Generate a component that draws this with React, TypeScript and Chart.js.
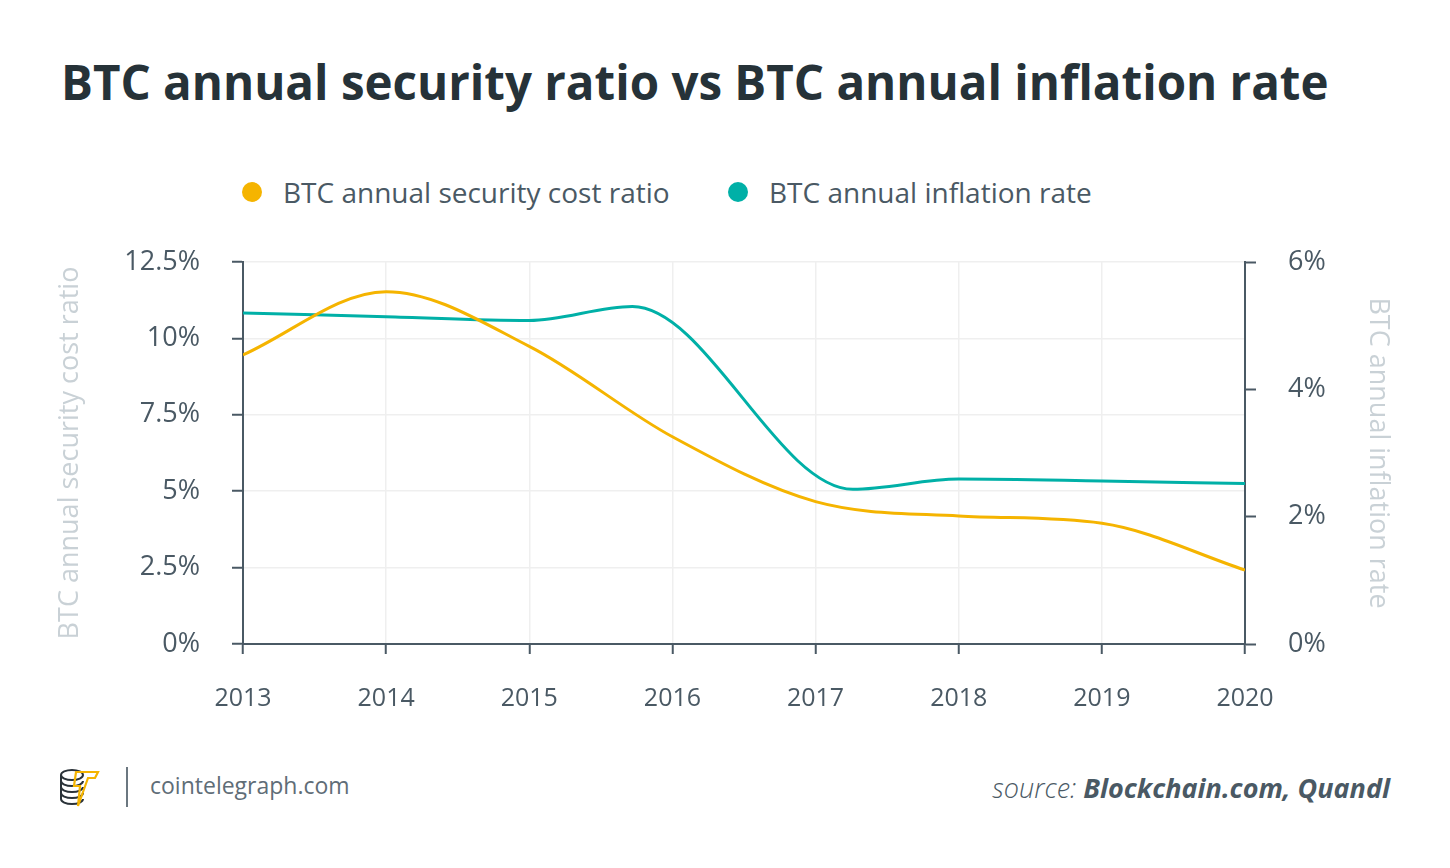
import React, { useEffect, useRef } from "react";
import { Chart, registerables } from "chart.js";

Chart.register(...registerables);

const yearTicks = [2013, 2014, 2015, 2016, 2017, 2018, 2019, 2020];
const securityYears = [2013, 2014, 2015, 2016, 2017, 2018, 2019, 2020];
const securityCostRatio = [9.46, 11.53, 9.74, 6.78, 4.66, 4.19, 3.95, 2.42];
const inflationYears = [2013, 2014, 2015, 2015.72, 2017.26, 2018, 2019, 2020];
const inflationRate = [5.2, 5.14, 5.08, 5.3, 2.43, 2.59, 2.56, 2.52];
const leftTicks = [0, 2.5, 5, 7.5, 10, 12.5];
const rightTicks = [0, 2, 4, 6];

const YELLOW = "#f5b400";
const TEAL = "#00b0a7";
const AXIS = "#4a5964";
const GRID = "#efefef";
const TITLE_GREY = "#c9d1d6";
const FONT = "'Open Sans', 'Noto Sans', sans-serif";

function LineChart() {
  const ref = useRef<HTMLCanvasElement | null>(null);
  useEffect(() => {
    if (!ref.current) return;
    const chart = new Chart(ref.current, {
      type: "line",
      data: {
        datasets: [
          {
            label: "BTC annual security cost ratio",
            data: securityYears.map((x, i) => ({ x, y: securityCostRatio[i] })),
            borderColor: YELLOW,
            backgroundColor: YELLOW,
            borderWidth: 3,
            pointRadius: 0,
            cubicInterpolationMode: "monotone",
            yAxisID: "y",
          },
          {
            label: "BTC annual inflation rate",
            data: inflationYears.map((x, i) => ({ x, y: inflationRate[i] })),
            borderColor: TEAL,
            backgroundColor: TEAL,
            borderWidth: 3,
            pointRadius: 0,
            cubicInterpolationMode: "monotone",
            yAxisID: "y1",
          },
        ],
      },
      options: {
        animation: false,
        responsive: true,
        maintainAspectRatio: false,
        layout: { padding: { top: 22, left: 0, right: 0, bottom: 0 } },
        plugins: {
          legend: { display: false },
          tooltip: { enabled: false },
        },
        scales: {
          x: {
            type: "linear",
            min: 2013,
            max: 2020,
            afterBuildTicks: (s: any) => {
              s.ticks = yearTicks.map((v) => ({ value: v }));
            },
            grid: { color: GRID, lineWidth: 1.5, tickColor: AXIS, tickLength: 10, tickWidth: 2 },
            border: { color: AXIS, width: 2 },
            ticks: {
              color: AXIS,
              font: { family: FONT, size: 25 },
              padding: 30,
              maxRotation: 0,
              autoSkip: false,
              callback: (v: any) => String(v),
            },
            afterFit: (s: any) => {
              s.height = 76;
              s.paddingLeft = 0;
              s.paddingRight = 0;
            },
          },
          y: {
            position: "left",
            min: 0,
            max: 12.5,
            afterBuildTicks: (s: any) => {
              s.ticks = leftTicks.map((v) => ({ value: v }));
            },
            grid: { color: GRID, lineWidth: 1.5, tickColor: AXIS, tickLength: 11, tickWidth: 2 },
            border: { color: AXIS, width: 2 },
            ticks: {
              color: AXIS,
              font: { family: FONT, size: 27 },
              padding: 32,
              callback: (v: any) => `${v}%`,
            },
            title: {
              display: true,
              text: "BTC annual security cost ratio",
              color: TITLE_GREY,
              font: { family: FONT, size: 27 },
              padding: { top: 54, bottom: 0 },
            },
            afterFit: (s: any) => {
              s.width = 243;
              s.paddingTop = 0;
              s.paddingBottom = 0;
            },
          },
          y1: {
            position: "right",
            min: 0,
            max: 6,
            afterBuildTicks: (s: any) => {
              s.ticks = rightTicks.map((v) => ({ value: v }));
            },
            grid: { drawOnChartArea: false, tickColor: AXIS, tickLength: 11, tickWidth: 2 },
            border: { color: AXIS, width: 2 },
            ticks: {
              color: AXIS,
              font: { family: FONT, size: 27 },
              padding: 32,
              callback: (v: any) => `${v}%`,
            },
            title: {
              display: true,
              text: "BTC annual inflation rate",
              color: TITLE_GREY,
              font: { family: FONT, size: 27 },
              padding: { top: 56, bottom: 0 },
            },
            afterFit: (s: any) => {
              s.width = 205;
              s.paddingTop = 0;
              s.paddingBottom = 0;
            },
          },
        },
      },
    });
    return () => chart.destroy();
  }, []);
  return <canvas ref={ref} />;
}

function Logo() {
  return (
    <svg width="44" height="40" viewBox="0 0 44 40" style={{ position: "absolute", left: 58, top: 767 }}>
      <g fill="none" stroke="#2a3238" strokeWidth="2">
        <ellipse cx="14" cy="8" rx="11" ry="5" />
        <path d="M3 8 v6 a11 5 0 0 0 22 0" />
        <path d="M3 14 v6 a11 5 0 0 0 22 0" />
        <path d="M3 20 v6 a11 5 0 0 0 22 0" />
        <path d="M3 26 v6 a11 5 0 0 0 22 0" />
      </g>
      <path d="M18 5 h22 l-3 6 h-7 l-10 28 l2 -20 h-6 z" fill="none" stroke={YELLOW} strokeWidth="2.2" />
    </svg>
  );
}

export default function App() {
  useEffect(() => {
    document.body.style.margin = "0";
  }, []);
  return (
    <div
      style={{
        position: "absolute",
        left: 0,
        top: 0,
        width: 1450,
        height: 868,
        background: "#ffffff",
        fontFamily: FONT,
        overflow: "hidden",
      }}
    >
      <div
        style={{
          position: "absolute",
          left: 61,
          top: 58,
          fontSize: 47.5,
          lineHeight: "48px",
          fontWeight: 700,
          color: "#263238",
          whiteSpace: "nowrap",
        }}
      >
        BTC annual security ratio vs BTC annual inflation rate
      </div>

      <div style={{ position: "absolute", left: 242, top: 182, width: 20, height: 20, borderRadius: 10, background: YELLOW }} />
      <div
        style={{ position: "absolute", left: 283, top: 173, fontSize: 28, lineHeight: "38px", color: AXIS, whiteSpace: "nowrap" }}
      >
        BTC annual security cost ratio
      </div>
      <div style={{ position: "absolute", left: 728, top: 182, width: 20, height: 20, borderRadius: 10, background: TEAL }} />
      <div
        style={{ position: "absolute", left: 769, top: 173, fontSize: 28, lineHeight: "38px", color: AXIS, whiteSpace: "nowrap" }}
      >
        BTC annual inflation rate
      </div>

      <div style={{ position: "absolute", left: 0, top: 240, width: 1450, height: 480 }}>
        <LineChart />
      </div>

      <Logo />
      <div style={{ position: "absolute", left: 126, top: 767, width: 2, height: 40, background: "#6b7780" }} />
      <div
        style={{ position: "absolute", left: 150, top: 770, fontSize: 23, lineHeight: "30px", color: "#5f6d77", whiteSpace: "nowrap" }}
      >
        cointelegraph.com
      </div>
      <div
        style={{
          position: "absolute",
          right: 60,
          top: 770,
          fontSize: 27,
          lineHeight: "36px",
          color: AXIS,
          fontStyle: "italic",
          whiteSpace: "nowrap",
        }}
      >
        <span style={{ fontWeight: 300 }}>source: </span>
        <span style={{ fontWeight: 700 }}>Blockchain.com, Quandl</span>
      </div>
    </div>
  );
}
